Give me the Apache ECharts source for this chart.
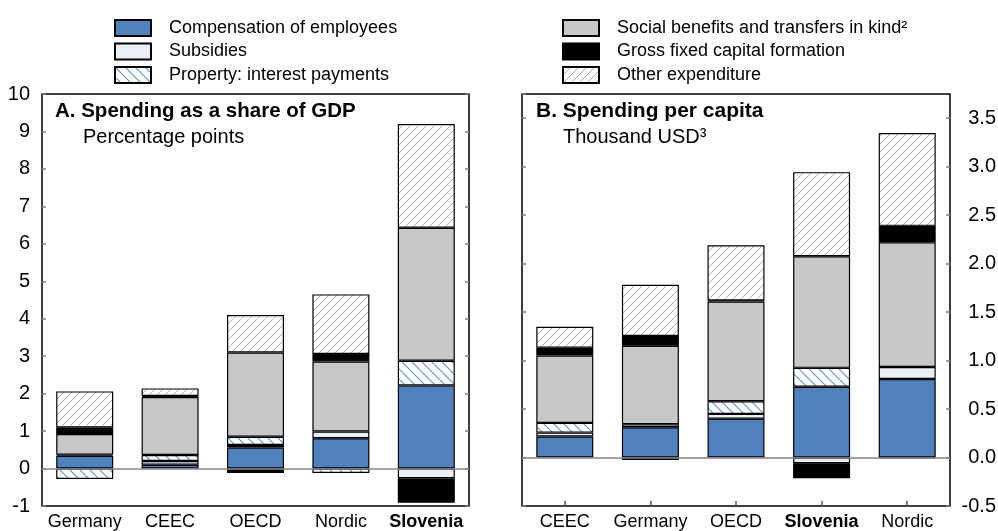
<!DOCTYPE html>
<html>
<head>
<meta charset="utf-8">
<script src="https://cdn.jsdelivr.net/npm/echarts@6/dist/echarts.min.js"></script>
<style>
html,body{margin:0;padding:0;background:#fff;}
#chart{width:998px;height:531px;}
</style>
</head>
<body>
<div id="chart"></div>
<script>
// ---- Data ----
const seriesNames = ['Compensation of employees', 'Subsidies', 'Property: interest payments',
  'Social benefits and transfers in kind\u00B2', 'Gross fixed capital formation', 'Other expenditure'];

// Panel A: spending as a share of GDP (percentage points)
const catsA = ['Germany', 'CEEC', 'OECD', 'Nordic', 'Slovenia'];
const compA  = [0.34, 0.10, 0.56, 0.81, 2.22];
const subsA  = [0.03, 0.10, 0.07, 0.18, -0.26];
const propA  = [-0.28, 0.16, 0.22, -0.12, 0.66];
const socA   = [0.55, 1.55, 2.25, 1.87, 3.55];
const gfcfA  = [0.18, 0.03, -0.12, 0.20, -0.65];
const otherA = [0.96, 0.20, 1.00, 1.59, 2.77];
const ticksA = {min: -1, max: 10, interval: 1};

// Panel B: spending per capita (thousand USD)
const catsB = ['CEEC', 'Germany', 'OECD', 'Slovenia', 'Nordic'];
const compB  = [0.217, 0.313, 0.40, 0.73, 0.81];
const subsB  = [0.04, 0.03, 0.05, -0.058, 0.124];
const propB  = [0.10, -0.025, 0.13, 0.195, -0.01];
const socB   = [0.695, 0.81, 1.03, 1.152, 1.286];
const gfcfB  = [0.08, 0.10, 0.01, -0.155, 0.17];
const otherB = [0.217, 0.53, 0.57, 0.867, 0.957];
const ticksB = {min: -0.5, max: 3.75, interval: 0.5};

// ---- Patterns ----
function hatch(size, color, dir, lw) {
  const c = document.createElement('canvas');
  c.width = size; c.height = size;
  const ctx = c.getContext('2d');
  ctx.fillStyle = '#fff'; ctx.fillRect(0, 0, size, size);
  ctx.strokeStyle = color; ctx.lineWidth = lw;
  for (let k = -1; k <= 1; k++) {
    ctx.beginPath();
    if (dir === 'back') { ctx.moveTo(k * size, 0); ctx.lineTo(k * size + size, size); }
    else { ctx.moveTo(k * size, size); ctx.lineTo(k * size + size, 0); }
    ctx.stroke();
  }
  return {image: c, repeat: 'repeat'};
}
const colors = [
  '#4f81bd',
  '#e9eef7',
  hatch(10, '#5b8fd6', 'back', 1.1),
  '#c8c8c8',
  '#000000',
  hatch(8, '#a6a6a6', 'fwd', 0.9)
];

const FONT = 'Arial, "Liberation Sans", sans-serif';

function buildSeries(gridIdx, xIdx, yIdx, arrays) {
  return arrays.map((d, i) => {
    const s = {
      name: seriesNames[i],
      type: 'bar',
      stack: 'g' + gridIdx,
      xAxisIndex: xIdx,
      yAxisIndex: yIdx,
      barWidth: 57,
      data: d,
      itemStyle: {color: colors[i], borderColor: '#000', borderWidth: 1.2},
      emphasis: {disabled: true},
      animation: false
    };
    if (i === arrays.length - 1) {
      s.markLine = {
        silent: true, symbol: ['none', 'none'], animation: false,
        label: {show: false},
        lineStyle: {color: '#858585', width: 1.5, type: 'solid'},
        data: [{yAxis: 0}]
      };
    }
    return s;
  });
}

function yAx(grid, pos, t, showLabel, margin, align) {
  const lab = {show: showLabel, fontSize: 20, color: '#000', fontFamily: FONT, margin: margin,
      showMaxLabel: t.max % t.interval === 0,
      formatter: v => t.interval < 1 ? v.toFixed(1) : String(v)};
  if (align) lab.align = align;
  return {
    type: 'value', gridIndex: grid, position: pos,
    min: t.min, max: t.max, interval: t.interval,
    axisLine: {show: false},
    splitLine: {show: false},
    axisTick: {show: true, inside: true, length: 4, lineStyle: {color: '#808080', width: 1.5}},
    axisLabel: lab
  };
}

function xAx(grid, cats, ticks) {
  return {
    type: 'category', gridIndex: grid, data: cats, position: 'bottom',
    axisLine: {show: false, onZero: false},
    axisTick: {show: ticks, inside: true, alignWithLabel: true, length: 5, lineStyle: {color: '#555', width: 1.5}},
    axisLabel: {fontSize: 18, color: '#000', fontFamily: FONT, margin: 7, interval: 0,
      formatter: v => v === 'Slovenia' ? '{b|' + v + '}' : v,
      rich: {b: {fontWeight: 'bold', fontSize: 18, fontFamily: FONT, color: '#000'}}}
  };
}

const chart = echarts.init(document.getElementById('chart'), null, {renderer: 'canvas'});
const legendCommon = {
  orient: 'vertical', itemWidth: 36, itemHeight: 16, itemGap: 5.5, padding: 0, icon: 'rect',
  selectedMode: false,
  textStyle: {fontSize: 18, color: '#000', fontFamily: FONT, padding: [0, 0, 0, 13]}
};
chart.setOption({
  animation: false,
  backgroundColor: '#fff',
  textStyle: {fontFamily: FONT},
  legend: [
    Object.assign({left: 114, top: 19, data: seriesNames.slice(0, 3)}, legendCommon),
    Object.assign({left: 562, top: 19, data: seriesNames.slice(3, 6)}, legendCommon)
  ],
  grid: [
    {left: 42, top: 94, width: 427, height: 412, show: true, borderColor: '#000', borderWidth: 1.5,
     containLabel: false, outerBoundsMode: 'none'},
    {left: 522, top: 94, width: 428, height: 412, show: true, borderColor: '#000', borderWidth: 1.5,
     containLabel: false, outerBoundsMode: 'none'}
  ],
  xAxis: [xAx(0, catsA, false), xAx(1, catsB, true)],
  yAxis: [
    yAx(0, 'left', ticksA, true, 12),
    yAx(0, 'right', ticksA, false, 8),
    yAx(1, 'left', ticksB, false, 8),
    yAx(1, 'right', ticksB, true, 46, 'right')
  ],
  graphic: [
    {type: 'text', left: 55, top: 101, style: {text: 'A. Spending as a share of GDP', font: 'bold 20.5px ' + FONT, fill: '#000'}},
    {type: 'text', left: 83, top: 127, style: {text: 'Percentage points', font: '20px ' + FONT, fill: '#000'}},
    {type: 'text', left: 536, top: 101, style: {text: 'B. Spending per capita', font: 'bold 21px ' + FONT, fill: '#000'}},
    {type: 'text', left: 563, top: 127, style: {text: 'Thousand USD\u00B3', font: '20px ' + FONT, fill: '#000'}}
  ],
  series: [
    ...buildSeries(0, 0, 0, [compA, subsA, propA, socA, gfcfA, otherA]),
    ...buildSeries(1, 1, 3, [compB, subsB, propB, socB, gfcfB, otherB])
  ]
});
</script>
</body>
</html>
